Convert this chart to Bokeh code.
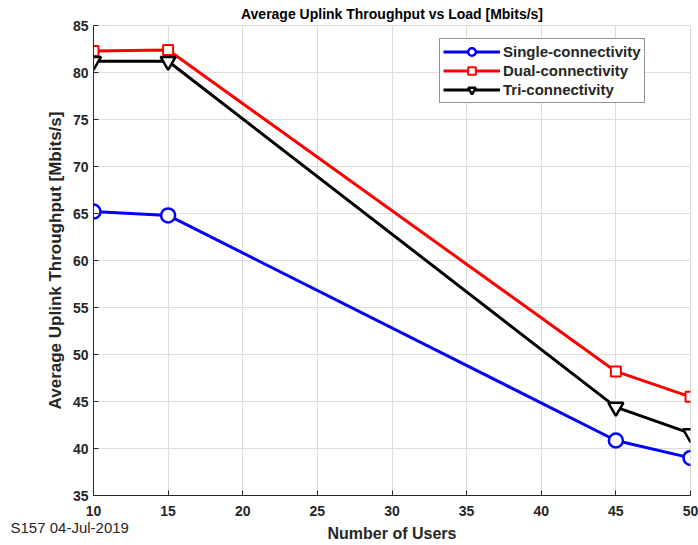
from bokeh.plotting import figure
from bokeh.models import Range1d, Legend, LegendItem, FixedTicker, Title
from bokeh.embed import file_html
from bokeh.resources import INLINE

users = [10, 15, 45, 50]
single = [65.2, 64.8, 40.85, 39.0]
dual = [82.3, 82.4, 48.2, 45.5]
tri = [81.2, 81.2, 44.4, 41.6]
x_ticks = [10, 15, 20, 25, 30, 35, 40, 45, 50]
y_ticks = [35, 40, 45, 50, 55, 60, 65, 70, 75, 80, 85]

FONT = "Liberation Sans"
AXC = "#262626"
GRID = "#dcdcdc"

p = figure(frame_width=597, frame_height=470, output_backend="svg", toolbar_location=None,
           x_range=Range1d(10, 50), y_range=Range1d(35, 85),
           min_border_left=93, min_border_right=8, min_border_top=5, min_border_bottom=50)
p.title = Title(text="Average Uplink Throughput vs Load [Mbits/s]", align="center", offset=-9,
                text_font=FONT, text_font_size="14px", text_font_style="bold",
                text_color="#000000", standoff=7)
p.outline_line_color = GRID
p.outline_line_width = 1

for ax in (p.xaxis, p.yaxis):
    ax.major_label_text_font = FONT
    ax.major_label_text_font_size = "14px"
    ax.major_label_text_font_style = "bold"
    ax.major_label_text_color = AXC
    ax.axis_label_text_font = FONT
    ax.axis_label_text_font_style = "bold"
    ax.axis_label_text_color = AXC
    ax.major_tick_in = 5
    ax.major_tick_out = 0
    ax.minor_tick_line_color = None
    ax.axis_line_color = AXC
    ax.major_tick_line_color = AXC

p.xaxis.ticker = FixedTicker(ticks=x_ticks)
p.yaxis.ticker = FixedTicker(ticks=y_ticks)
p.xaxis.axis_label = "Number of Users"
p.yaxis.axis_label = "Average Uplink Throughput [Mbits/s]"
p.xaxis.axis_label_text_font_size = "16px"
p.yaxis.axis_label_text_font_size = "17px"
p.xaxis.major_label_standoff = 10
p.yaxis.major_label_standoff = 5
p.xaxis.axis_label_standoff = 6
p.yaxis.axis_label_standoff = 5

p.xgrid.grid_line_color = GRID
p.ygrid.grid_line_color = GRID

r1l = p.line(users, single, line_color="#0000ff", line_width=3)
r1m = p.scatter(users, single, marker="circle", size=14, line_color="#0000ff", line_width=2.5, fill_color="white")
r2l = p.line(users, dual, line_color="#ff0000", line_width=3)
r2m = p.scatter(users, dual, marker="square", size=10, line_color="#ff0000", line_width=2, fill_color="white")
r3l = p.line(users, tri, line_color="#000000", line_width=3)
r3m = p.scatter(users, tri, marker="inverted_triangle", size=15, line_color="#000000", line_width=2.5, fill_color="white")

legend = Legend(items=[
    LegendItem(label="Single-connectivity", renderers=[r1l, r1m]),
    LegendItem(label="Dual-connectivity", renderers=[r2l, r2m]),
    LegendItem(label="Tri-connectivity", renderers=[r3l, r3m]),
], location=(346, 392))
legend.label_text_font = FONT
legend.label_text_font_size = "15px"
legend.label_text_font_style = "bold"
legend.label_text_color = AXC
legend.glyph_width = 57
legend.glyph_height = 19
legend.label_height = 19
legend.spacing = 0
legend.padding = 3
legend.margin = 0
legend.label_standoff = 3
legend.border_line_color = AXC
legend.border_line_width = 1
legend.background_fill_alpha = 1
p.add_layout(legend)

stamp = Title(text="S157 04-Jul-2019", align="left", offset=-83, standoff=-52, vertical_align="top",
              text_font=FONT, text_font_size="15px", text_font_style="normal", text_color=AXC)
p.add_layout(stamp, "below")

open("out.html", "w").write(file_html(p, INLINE))
